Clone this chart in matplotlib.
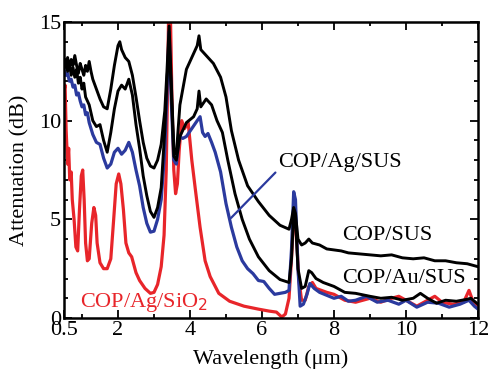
# Attenuation spectra of the hollow fibers

import matplotlib.pyplot as plt
from matplotlib.ticker import MultipleLocator

plt.rcParams['font.family'] = ['Liberation Serif', 'DejaVu Serif']

# COP/SUS (upper black curve)
wl_sus = [0.5, 0.55, 0.6, 0.65, 0.7, 0.75, 0.8, 0.85, 0.9, 0.95, 1.0, 1.05, 1.1, 1.15, 1.2,
          1.25, 1.3, 1.4, 1.5, 1.6, 1.7, 1.8, 1.9, 2.0, 2.05, 2.1, 2.2, 2.3, 2.4, 2.5, 2.6,
          2.7, 2.8, 2.9, 3.0, 3.1, 3.2, 3.3, 3.36, 3.42, 3.48, 3.55, 3.62, 3.72, 3.9, 4.1,
          4.2, 4.25, 4.3, 4.4, 4.65, 4.85, 5.0, 5.15, 5.35, 5.6, 5.9, 6.2, 6.5, 6.75, 6.82,
          6.88, 6.93, 7.0, 7.1, 7.2, 7.3, 7.4, 7.6, 7.8, 8.0, 8.2, 8.4, 8.7, 9.0, 9.3, 9.6,
          9.9, 10.2, 10.5, 10.8, 11.1, 11.4, 11.7, 12.0]
att_sus = [13.0, 12.7, 13.2, 12.6, 13.1, 12.8, 13.3, 12.8, 12.4, 12.9, 12.6, 12.3, 12.8, 12.5, 13.0,
           12.5, 12.1, 11.6, 11.1, 10.7, 10.6, 11.6, 12.8, 13.8, 14.0, 13.6, 13.2, 13.0, 12.3, 11.2, 10.0,
           8.9, 8.1, 7.7, 7.6, 8.0, 8.8, 10.5, 12.5, 14.8, 12.0, 8.6, 8.3, 10.8, 12.6, 13.4,
           13.8, 14.3, 13.6, 13.4, 12.9, 12.2, 11.2, 9.5, 8.0, 6.7, 5.9, 5.2, 4.7, 4.5, 5.0,
           5.6, 5.3, 4.0, 3.7, 3.8, 4.0, 3.8, 3.7, 3.5, 3.45, 3.4, 3.3, 3.25, 3.2, 3.15, 3.2,
           3.05, 3.0, 3.05, 2.9, 2.9, 2.8, 2.75, 2.6]

# COP/Au/SUS (lower black curve)
wl_au = [0.5, 0.55, 0.6, 0.65, 0.7, 0.75, 0.8, 0.85, 0.9, 0.95, 1.0, 1.05, 1.1, 1.2, 1.3, 1.4,
         1.5, 1.6, 1.7, 1.8, 1.9, 2.0, 2.1, 2.2, 2.3, 2.4, 2.5, 2.6, 2.7, 2.8, 2.9, 3.0, 3.1,
         3.2, 3.3, 3.36, 3.42, 3.48, 3.55, 3.62, 3.72, 3.9, 4.1, 4.2, 4.25, 4.3, 4.45, 4.6,
         4.75, 4.9, 5.05, 5.25, 5.45, 5.65, 5.9, 6.2, 6.5, 6.75, 6.82, 6.88, 6.93, 7.0, 7.1,
         7.2, 7.3, 7.38, 7.5, 7.7, 8.0, 8.3, 8.6, 9.0, 9.3, 9.6, 9.9, 10.2, 10.4, 10.6, 10.85,
         11.1, 11.4, 11.7, 11.8, 12.0]
att_au = [12.8, 13.1, 12.5, 12.9, 12.3, 12.7, 12.2, 12.6, 11.9, 12.2, 11.6, 11.9, 11.2, 10.8, 10.0, 9.7,
          9.8, 9.0, 8.4, 9.4, 10.6, 11.5, 11.8, 11.6, 12.1, 11.3, 9.8, 8.6, 7.2, 6.2, 5.4, 5.1, 5.6,
          6.6, 9.5, 12.0, 14.0, 11.5, 8.2, 8.0, 9.2, 9.9, 10.2, 10.6, 11.5, 10.7, 11.1, 10.8,
          10.0, 9.4, 8.0, 6.3, 5.0, 4.0, 3.1, 2.4, 1.95, 1.8, 3.0, 5.3, 5.0, 2.5, 1.5,
          1.6, 2.4, 2.3, 2.0, 1.8, 1.6, 1.3, 1.25, 1.1, 1.0, 1.05, 0.9, 1.0, 1.25, 1.0, 0.75,
          0.9, 0.85, 0.95, 1.0, 0.7]

# COP/Ag/SUS (blue curve)
wl_ag = [0.5, 0.55, 0.6, 0.65, 0.7, 0.75, 0.8, 0.85, 0.9, 0.95, 1.0, 1.05, 1.1, 1.15, 1.2, 1.3,
         1.4, 1.5, 1.6, 1.7, 1.8, 1.9, 2.0, 2.1, 2.2, 2.3, 2.4, 2.5, 2.6, 2.7, 2.8, 2.9, 3.0,
         3.1, 3.2, 3.3, 3.36, 3.42, 3.48, 3.55, 3.62, 3.7, 3.8, 3.9, 4.05, 4.2, 4.28, 4.35,
         4.42, 4.5, 4.6, 4.7, 4.85, 5.0, 5.15, 5.3, 5.45, 5.6, 5.75, 5.9, 6.05, 6.2, 6.35,
         6.5, 6.65, 6.75, 6.82, 6.88, 6.93, 7.0, 7.06, 7.15, 7.25, 7.33, 7.45, 7.6, 7.8, 8.0,
         8.2, 8.4, 8.6, 8.9, 9.2, 9.5, 9.8, 10.0, 10.3, 10.6, 10.9, 11.2, 11.5, 11.75, 11.9, 12.0]
att_ag = [12.6, 12.3, 12.4, 12.0, 12.1, 11.7, 11.8, 11.3, 11.4, 11.0, 10.7, 10.8, 10.3, 10.4, 9.9, 9.3,
          8.9, 8.8, 8.1, 7.6, 7.8, 8.4, 8.6, 8.3, 8.5, 8.9, 8.4, 7.5, 6.7, 5.6, 4.8, 4.35, 4.4,
          5.0, 6.0, 8.5, 11.5, 14.5, 11.0, 8.0, 7.8, 9.2, 9.1, 9.2, 9.6, 10.0, 10.2, 9.4,
          9.2, 9.35, 8.9, 8.4, 7.4, 5.8, 4.6, 3.6, 2.9, 2.5, 2.25, 1.9, 1.85, 1.5, 1.2,
          1.25, 1.3, 1.4, 3.5, 6.4, 6.0, 2.5, 0.6, 0.7, 1.2, 1.75, 1.5, 1.3, 1.15, 1.0,
          1.1, 0.85, 0.9, 1.1, 0.8, 0.9, 0.7, 0.9, 0.55, 0.8, 0.75, 0.55, 0.7, 0.9, 0.6, 0.45]

# COP/Ag/SiO2 (red curve)
wl_sio2 = [0.5, 0.53, 0.56, 0.6, 0.63, 0.66, 0.7, 0.73, 0.78, 0.83, 0.88, 0.93, 0.98, 1.02, 1.06,
           1.1, 1.15, 1.2, 1.27, 1.33, 1.38, 1.42, 1.5, 1.6, 1.7, 1.8, 1.88, 1.95, 2.02, 2.08,
           2.15, 2.22, 2.3, 2.38, 2.5, 2.6, 2.75, 2.9, 3.0, 3.1, 3.2, 3.28, 3.34, 3.38, 3.41,
           3.45, 3.5, 3.55, 3.6, 3.65, 3.7, 3.77, 3.85, 3.95, 4.05, 4.15, 4.28, 4.42, 4.56,
           4.8, 5.1, 5.5, 5.9, 6.2, 6.4, 6.55, 6.65, 6.75, 6.82, 6.88, 6.95, 7.02, 7.1, 7.2,
           7.3, 7.4, 7.5, 7.8, 8.0, 8.3, 8.6, 9.0, 9.3, 9.6, 9.8, 10.0, 10.3, 10.5, 10.8, 11.0,
           11.3, 11.6, 11.75, 11.85, 12.0]
att_sio2 = [11.5, 11.8, 9.5, 7.8, 8.6, 7.0, 7.4, 6.0, 5.0, 3.6, 3.4, 5.5, 7.2, 7.5, 6.0,
            3.8, 2.9, 3.0, 4.8, 5.6, 5.2, 3.8, 2.8, 2.5, 2.5, 3.0, 5.0, 6.8, 7.3, 6.8,
            5.5, 3.8, 3.3, 3.1, 2.3, 1.9, 1.5, 1.25, 1.3, 1.7, 2.6, 4.2, 7.5, 12.0, 16.0,
            16.0, 11.0, 7.5, 6.3, 6.8, 8.5, 10.0, 9.6, 9.9, 8.0, 6.5, 4.6, 2.9, 2.1,
            1.25, 0.85, 0.6, 0.45, 0.35, 0.3, 0.05, 0.2, 1.0, 3.0, 5.0, 4.5, 2.0, 0.9, 0.9,
            1.6, 1.8, 1.5, 1.3, 1.2, 0.9, 0.8, 1.0, 0.8, 1.0, 1.1, 0.9, 0.6, 0.8, 1.1, 0.8,
            0.7, 0.8, 1.4, 0.9, 0.6]

blue = '#2b3a9e'
red = '#e8252a'

fig = plt.figure(figsize=(4.9, 3.74), dpi=100)
ax = fig.add_axes([0.1306, 0.1497, 0.8449, 0.7915])

ax.plot(wl_sio2, att_sio2, color=red, lw=2.3)
ax.plot(wl_ag, att_ag, color=blue, lw=2.3)
ax.plot(wl_sus, att_sus, color='black', lw=2.1)
ax.plot(wl_au, att_au, color='black', lw=2.1)

ax.set_xlim(0.5, 12)
ax.set_ylim(0, 15)
ax.set_xticks([0.5, 2, 4, 6, 8, 10, 12])
ax.set_xticklabels(['0.5', '2', '4', '6', '8', '10', '12'])
ax.set_yticks([0, 5, 10, 15])
ax.xaxis.set_minor_locator(MultipleLocator(1))
ax.yaxis.set_minor_locator(MultipleLocator(1))
ax.tick_params(which='both', direction='in', top=True, right=True, labelsize=16, width=1.3)
ax.tick_params(which='major', length=6, pad=2)
ax.tick_params(which='minor', length=3)
for s in ax.spines.values():
    s.set_linewidth(1.8)

ax.set_xlabel('Wavelength (\u03bcm)', fontsize=16, labelpad=7)
ax.set_ylabel('Attenuation (dB)', fontsize=16, labelpad=7)

ax.annotate('COP/Ag/SUS', xy=(5.14, 5.07), xytext=(6.45, 7.9), fontsize=16,
            va='center', ha='left',
            arrowprops=dict(arrowstyle='-', color=blue, lw=1.6, relpos=(0, 0.1),
                            shrinkA=0, shrinkB=0))
ax.text(8.22, 4.2, 'COP/SUS', fontsize=16, va='center', ha='left')
ax.text(8.22, 2.0, 'COP/Au/SUS', fontsize=16, va='center', ha='left')
ax.text(0.94, 0.8, 'COP/Ag/SiO$_2$', fontsize=16, va='center', ha='left', color=red)

fig.savefig('out.png', dpi=100)
plt.close(fig)
